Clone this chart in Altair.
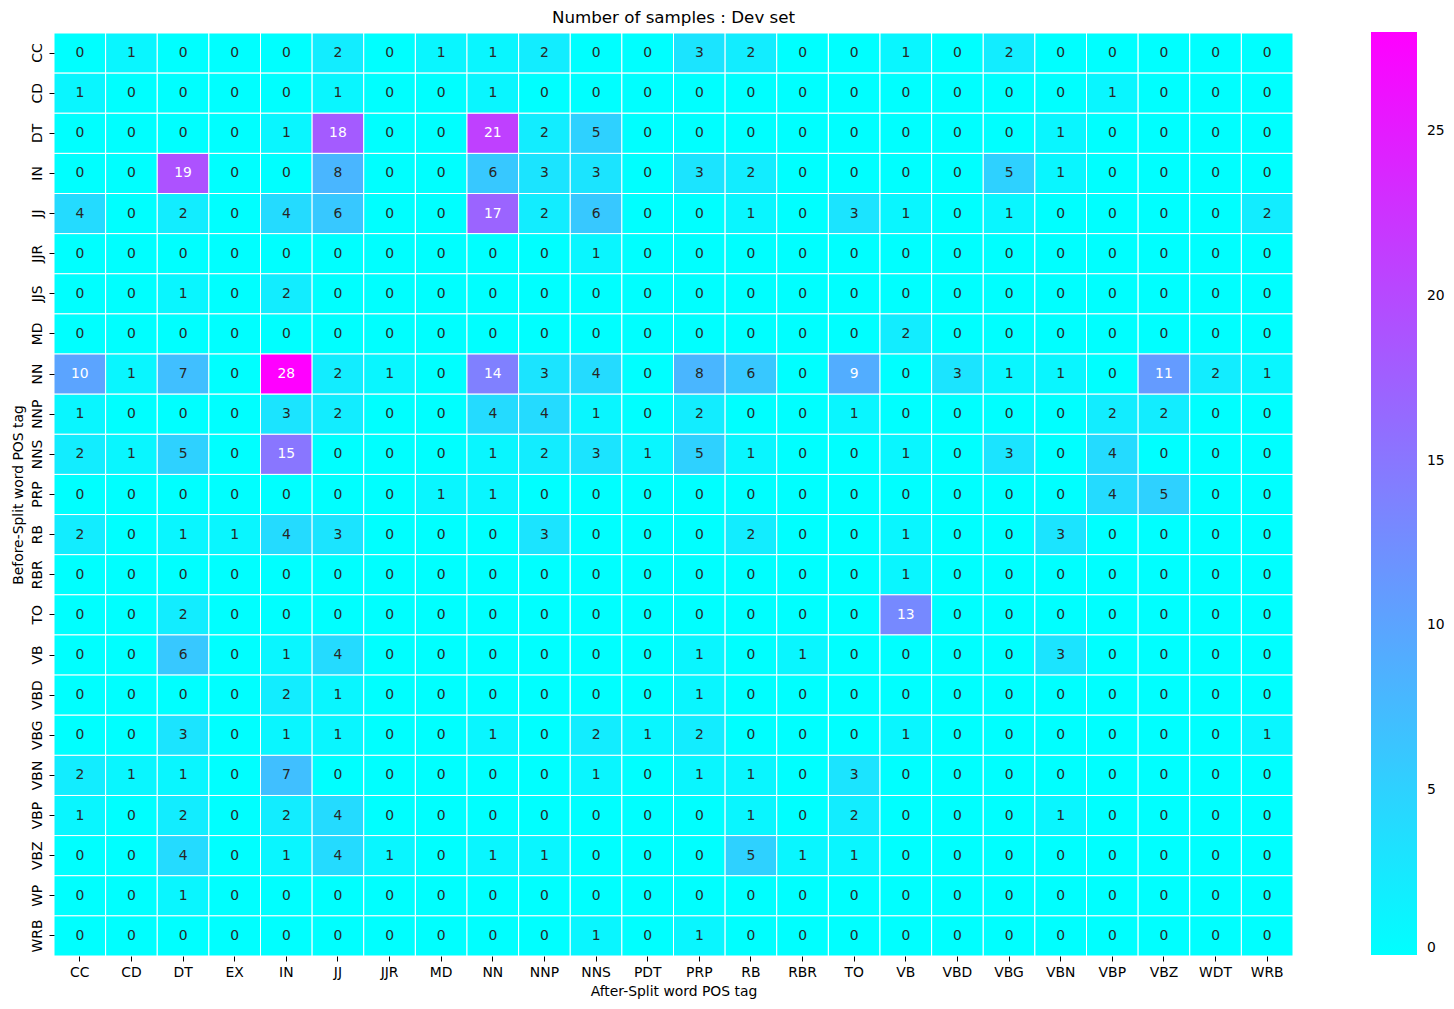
import altair as alt
import pandas as pd

after_tags = ["CC", "CD", "DT", "EX", "IN", "JJ", "JJR", "MD", "NN", "NNP", "NNS", "PDT",
              "PRP", "RB", "RBR", "TO", "VB", "VBD", "VBG", "VBN", "VBP", "VBZ", "WDT", "WRB"]
before_tags = ["CC", "CD", "DT", "IN", "JJ", "JJR", "JJS", "MD", "NN", "NNP", "NNS", "PRP",
               "RB", "RBR", "TO", "VB", "VBD", "VBG", "VBN", "VBP", "VBZ", "WP", "WRB"]

row_CC  = [0, 1, 0, 0, 0, 2, 0, 1, 1, 2, 0, 0, 3, 2, 0, 0, 1, 0, 2, 0, 0, 0, 0, 0]
row_CD  = [1, 0, 0, 0, 0, 1, 0, 0, 1, 0, 0, 0, 0, 0, 0, 0, 0, 0, 0, 0, 1, 0, 0, 0]
row_DT  = [0, 0, 0, 0, 1, 18, 0, 0, 21, 2, 5, 0, 0, 0, 0, 0, 0, 0, 0, 1, 0, 0, 0, 0]
row_IN  = [0, 0, 19, 0, 0, 8, 0, 0, 6, 3, 3, 0, 3, 2, 0, 0, 0, 0, 5, 1, 0, 0, 0, 0]
row_JJ  = [4, 0, 2, 0, 4, 6, 0, 0, 17, 2, 6, 0, 0, 1, 0, 3, 1, 0, 1, 0, 0, 0, 0, 2]
row_JJR = [0, 0, 0, 0, 0, 0, 0, 0, 0, 0, 1, 0, 0, 0, 0, 0, 0, 0, 0, 0, 0, 0, 0, 0]
row_JJS = [0, 0, 1, 0, 2, 0, 0, 0, 0, 0, 0, 0, 0, 0, 0, 0, 0, 0, 0, 0, 0, 0, 0, 0]
row_MD  = [0, 0, 0, 0, 0, 0, 0, 0, 0, 0, 0, 0, 0, 0, 0, 0, 2, 0, 0, 0, 0, 0, 0, 0]
row_NN  = [10, 1, 7, 0, 28, 2, 1, 0, 14, 3, 4, 0, 8, 6, 0, 9, 0, 3, 1, 1, 0, 11, 2, 1]
row_NNP = [1, 0, 0, 0, 3, 2, 0, 0, 4, 4, 1, 0, 2, 0, 0, 1, 0, 0, 0, 0, 2, 2, 0, 0]
row_NNS = [2, 1, 5, 0, 15, 0, 0, 0, 1, 2, 3, 1, 5, 1, 0, 0, 1, 0, 3, 0, 4, 0, 0, 0]
row_PRP = [0, 0, 0, 0, 0, 0, 0, 1, 1, 0, 0, 0, 0, 0, 0, 0, 0, 0, 0, 0, 4, 5, 0, 0]
row_RB  = [2, 0, 1, 1, 4, 3, 0, 0, 0, 3, 0, 0, 0, 2, 0, 0, 1, 0, 0, 3, 0, 0, 0, 0]
row_RBR = [0, 0, 0, 0, 0, 0, 0, 0, 0, 0, 0, 0, 0, 0, 0, 0, 1, 0, 0, 0, 0, 0, 0, 0]
row_TO  = [0, 0, 2, 0, 0, 0, 0, 0, 0, 0, 0, 0, 0, 0, 0, 0, 13, 0, 0, 0, 0, 0, 0, 0]
row_VB  = [0, 0, 6, 0, 1, 4, 0, 0, 0, 0, 0, 0, 1, 0, 1, 0, 0, 0, 0, 3, 0, 0, 0, 0]
row_VBD = [0, 0, 0, 0, 2, 1, 0, 0, 0, 0, 0, 0, 1, 0, 0, 0, 0, 0, 0, 0, 0, 0, 0, 0]
row_VBG = [0, 0, 3, 0, 1, 1, 0, 0, 1, 0, 2, 1, 2, 0, 0, 0, 1, 0, 0, 0, 0, 0, 0, 1]
row_VBN = [2, 1, 1, 0, 7, 0, 0, 0, 0, 0, 1, 0, 1, 1, 0, 3, 0, 0, 0, 0, 0, 0, 0, 0]
row_VBP = [1, 0, 2, 0, 2, 4, 0, 0, 0, 0, 0, 0, 0, 1, 0, 2, 0, 0, 0, 1, 0, 0, 0, 0]
row_VBZ = [0, 0, 4, 0, 1, 4, 1, 0, 1, 1, 0, 0, 0, 5, 1, 1, 0, 0, 0, 0, 0, 0, 0, 0]
row_WP  = [0, 0, 1, 0, 0, 0, 0, 0, 0, 0, 0, 0, 0, 0, 0, 0, 0, 0, 0, 0, 0, 0, 0, 0]
row_WRB = [0, 0, 0, 0, 0, 0, 0, 0, 0, 0, 1, 0, 1, 0, 0, 0, 0, 0, 0, 0, 0, 0, 0, 0]

rows = [row_CC, row_CD, row_DT, row_IN, row_JJ, row_JJR, row_JJS, row_MD, row_NN, row_NNP,
        row_NNS, row_PRP, row_RB, row_RBR, row_TO, row_VB, row_VBD, row_VBG, row_VBN, row_VBP,
        row_VBZ, row_WP, row_WRB]

records = []
for b, vals in zip(before_tags, rows):
    for a, v in zip(after_tags, vals):
        records.append({"before": b, "after": a, "value": v})
df = pd.DataFrame(records)

FONT = "DejaVu Sans"
W, H = 1239, 923

x_enc = alt.X("after:N", sort=after_tags,
              scale=alt.Scale(paddingInner=0, paddingOuter=0),
              axis=alt.Axis(title="After-Split word POS tag", labelAngle=0, domain=False,
                            tickSize=5, tickColor="black", labelPadding=4, titlePadding=6,
                            labelFontSize=13.9, titleFontSize=13.9, labelColor="black",
                            titleColor="black", titleFontWeight="normal"))
y_enc = alt.Y("before:N", sort=before_tags,
              scale=alt.Scale(paddingInner=0, paddingOuter=0),
              axis=alt.Axis(title="Before-Split word POS tag", labelAngle=270, domain=False,
                            labelAlign="center", labelBaseline="bottom",
                            tickSize=5, tickColor="black", labelPadding=5, titlePadding=5,
                            labelFontSize=13.9, titleFontSize=13.9, labelColor="black",
                            titleColor="black", titleFontWeight="normal"))

base = alt.Chart(df)

heat = base.mark_rect(stroke="white", strokeWidth=1).encode(
    x=x_enc,
    y=y_enc,
    color=alt.Color("value:Q",
                    scale=alt.Scale(domain=[0, 28], range=["#00ffff", "#ff00ff"],
                                    interpolate="rgb"),
                    legend=alt.Legend(orient="none", legendX=1317, legendY=-1,
                                      direction="vertical", title=None,
                                      gradientLength=923, gradientThickness=46,
                                      gradientStrokeWidth=0,
                                      values=[0, 5, 10, 15, 20, 25],
                                      labelFontSize=13.9, labelOffset=10,
                                      labelBaseline="middle", labelColor="black",
                                      labelOverlap=False, padding=0)),
)

text = base.mark_text(fontSize=13.9, font=FONT).encode(
    x=alt.X("after:N", sort=after_tags),
    y=alt.Y("before:N", sort=before_tags),
    text=alt.Text("value:Q"),
    color=alt.condition(alt.datum.value >= 9, alt.value("white"), alt.value("#262626")),
)

chart = alt.layer(heat, text).properties(
    width=W, height=H,
    title=alt.Title("Number of samples : Dev set", fontSize=16.7, fontWeight="normal",
                    font=FONT, color="black", anchor="middle", offset=5),
    padding={"left": 54, "top": 33, "right": 161, "bottom": 53},
    autosize="none",
).configure(font=FONT).configure_view(stroke=None).configure_axis(labelFont=FONT, titleFont=FONT)

chart.save("out.html", embed_options={"renderer": "svg", "actions": False})
